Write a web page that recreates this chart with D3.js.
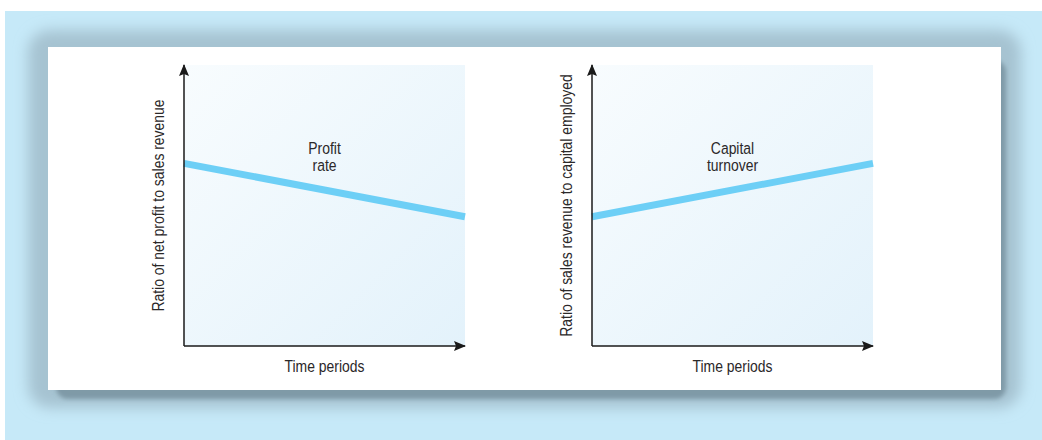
<!DOCTYPE html>
<html>
<head>
<meta charset="utf-8">
<script src="https://cdn.jsdelivr.net/npm/d3@7"></script>
<style>
  html, body { margin: 0; padding: 0; background: #fff; }
  svg text { font-family: "Liberation Sans", Arial, sans-serif; fill: #2b2829; }
</style>
</head>
<body>
<svg id="chart" width="1042" height="440"></svg>
<script>
// time axis runs from start to end of the observed periods
var periods = [0, 1];
var profitRate = [0.65, 0.46];
var capitalTurnover = [0.46, 0.65];

var lineNames = [["Profit", "rate"], ["Capital", "turnover"]];
var yTitles = ["Ratio of net profit to sales revenue", "Ratio of sales revenue to capital employed"];
var xTitle = "Time periods";

var panels = [
    {left: 184, right: 465, values: profitRate, name: lineNames[0], ytitle: yTitles[0]},
    {left: 592, right: 873, values: capitalTurnover, name: lineNames[1], ytitle: yTitles[1]}
];

var narrow = 0.82; // squeeze Liberation Sans to a condensed face

var svg = d3.select("#chart");
var defs = svg.append("defs");

// soft shadow round the white card
var blur = defs.append("filter").attr("id", "blur").attr("x", "-10%").attr("y", "-20%").attr("width", "120%").attr("height", "140%");
blur.append("feGaussianBlur").attr("stdDeviation", 7);
var blur2 = defs.append("filter").attr("id", "blur2").attr("x", "-10%").attr("y", "-20%").attr("width", "120%").attr("height", "140%");
blur2.append("feGaussianBlur").attr("stdDeviation", 2);

var grad = defs.append("linearGradient").attr("id", "plotfill")
    .attr("x1", "0%").attr("y1", "0%").attr("x2", "100%").attr("y2", "100%");
grad.append("stop").attr("offset", "0%").attr("stop-color", "#f8fcfe");
grad.append("stop").attr("offset", "100%").attr("stop-color", "#e3f2fb");

defs.append("marker").attr("id", "arrow")
    .attr("viewBox", "0 0 12 10").attr("refX", 11).attr("refY", 5)
    .attr("markerWidth", 12).attr("markerHeight", 10)
    .attr("markerUnits", "userSpaceOnUse").attr("orient", "auto")
    .append("path").attr("d", "M0,0 L12,5 L0,10 L2,5 Z").attr("fill", "#1a1a1a");

// backgrounds
svg.append("rect").attr("x", 5).attr("y", 11).attr("width", 1037).attr("height", 429).attr("fill", "#c6e9f8");
svg.append("rect").attr("x", 28).attr("y", 30).attr("width", 993).attr("height", 378).attr("rx", 22)
    .attr("fill", "#a6c3d1").attr("filter", "url(#blur)");
svg.append("rect").attr("x", 56).attr("y", 60).attr("width", 950).attr("height", 339).attr("rx", 12)
    .attr("fill", "#7f9aa7").attr("filter", "url(#blur2)");
svg.append("rect").attr("x", 48).attr("y", 47).attr("width", 953).attr("height", 343).attr("fill", "#ffffff");

var y = d3.scaleLinear().domain([0, 1]).range([346, 65]);

function addText(g, tx, ty, rot, str) {
    g.append("text")
        .attr("transform", "translate(" + tx + "," + ty + ")" + (rot ? " rotate(" + rot + ")" : "") + " scale(" + narrow + ",1)")
        .attr("text-anchor", "middle")
        .attr("font-size", 17)
        .text(str);
}

panels.forEach(function(p) {
    var x = d3.scaleLinear().domain([0, 1]).range([p.left, p.right]);
    var g = svg.append("g");

    g.append("rect")
        .attr("x", x(0)).attr("y", y(1))
        .attr("width", x(1) - x(0)).attr("height", y(0) - y(1))
        .attr("fill", "url(#plotfill)");

    var line = d3.line()
        .x(function(d, i) { return x(periods[i]); })
        .y(function(d) { return y(d); });

    g.append("path")
        .attr("d", line(p.values))
        .attr("fill", "none")
        .attr("stroke", "#6dcff6")
        .attr("stroke-width", 7);

    // axes with arrow heads
    g.append("line")
        .attr("x1", x(0)).attr("y1", y(0)).attr("x2", x(0)).attr("y2", y(1))
        .attr("stroke", "#1a1a1a").attr("stroke-width", 1.5).attr("marker-end", "url(#arrow)");
    g.append("line")
        .attr("x1", x(0)).attr("y1", y(0)).attr("x2", x(1)).attr("y2", y(0))
        .attr("stroke", "#1a1a1a").attr("stroke-width", 1.5).attr("marker-end", "url(#arrow)");

    addText(g, x(0.5), y(0) + 26, 0, xTitle);
    addText(g, x(0) - 20, y(0.5), -90, p.ytitle);

    p.name.forEach(function(t, i) {
        addText(g, x(0.5), y(0.685) + i * 17, 0, t);
    });
});
</script>
</body>
</html>
